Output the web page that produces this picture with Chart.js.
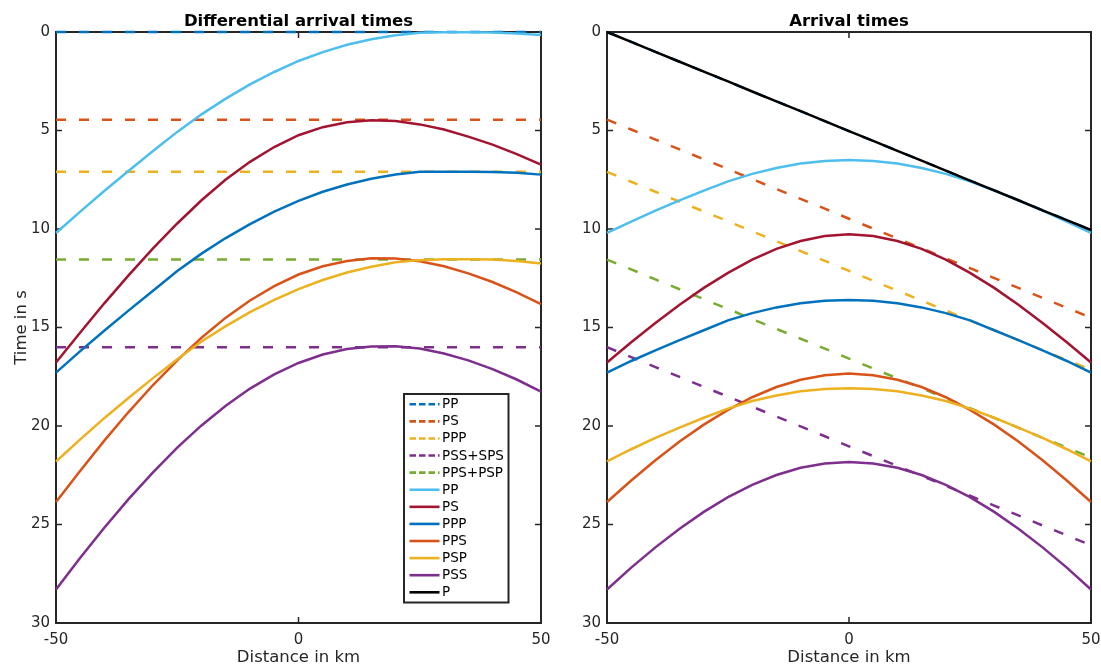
<!DOCTYPE html>
<html><head><meta charset="utf-8">
<script src="https://cdn.jsdelivr.net/npm/chart.js@4/dist/chart.umd.min.js"></script>
<style>
html,body{margin:0;padding:0;background:#fff;}
#wrap{position:relative;width:1101px;height:666px;overflow:hidden;background:#fff;}
canvas{position:absolute;top:0;}
</style></head><body>
<div id="wrap">
<canvas id="c1" width="560" height="666" style="left:0px"></canvas>
<canvas id="c2" width="541" height="666" style="left:560px"></canvas>
</div>
<script>
// ---------- data ----------
const distanceKm = [-50,-45,-40,-35,-30,-25,-20,-15,-10,-5,0,5,10,15,20,25,30,35,40,45,50];
const yTicks = [0,5,10,15,20,25,30];
const xTicks = [-50,0,50];

const dashedNames = ['PP','PS','PPP','PSS+SPS','PPS+PSP'];
const solidNames = ['PP','PS','PPP','PPS','PSP','PSS','P'];

// left panel: differential arrival times (s)
const diffDashedLevels = [0, 4.45, 7.1, 16.0, 11.55];
const diffPP  = [10.2,9.12,8.06,7.04,6.04,5.07,4.18,3.38,2.66,2.03,1.47,1.02,0.65,0.37,0.16,0.04,0.01,0.01,0.02,0.07,0.15];
const diffPS  = [16.78,15.25,13.76,12.34,10.98,9.72,8.54,7.49,6.59,5.84,5.24,4.83,4.58,4.48,4.52,4.69,4.95,5.31,5.72,6.2,6.73];
const diffPPP = [17.29,16.2,15.15,14.13,13.13,12.13,11.25,10.46,9.75,9.12,8.57,8.11,7.74,7.45,7.23,7.10,7.10,7.10,7.11,7.15,7.24];
const diffPPS = [23.86,22.27,20.73,19.28,17.92,16.67,15.52,14.5,13.63,12.9,12.31,11.89,11.62,11.49,11.5,11.64,11.89,12.25,12.69,13.22,13.81];
const diffPSP = [21.8,20.68,19.59,18.57,17.57,16.61,15.71,14.93,14.22,13.6,13.05,12.59,12.21,11.92,11.69,11.58,11.54,11.54,11.55,11.63,11.75];
const diffPSS = [28.3,26.69,25.15,23.7,22.35,21.1,19.97,18.97,18.1,17.38,16.8,16.37,16.09,15.96,15.95,16.07,16.32,16.67,17.11,17.64,18.25];

// right panel: arrival times (s)
const timePPdash  = [0,0.50,1.01,1.51,2.01,2.51,3.02,3.52,4.02,4.52,5.03,5.53,6.03,6.53,7.04,7.54,8.04,8.54,9.05,9.55,10.05];
const timePSdash  = [4.45,4.95,5.46,5.96,6.46,6.96,7.47,7.97,8.47,8.97,9.48,9.98,10.48,10.98,11.49,11.99,12.49,12.99,13.5,14.0,14.5];
const timePPPdash = [7.1,7.6,8.11,8.61,9.11,9.61,10.12,10.62,11.12,11.62,12.13,12.63,13.13,13.63,14.14,14.64,15.14,15.64,16.15,16.65,17.15];
const timePSSdash = [16,16.5,17.01,17.51,18.01,18.51,19.02,19.52,20.02,20.52,21.03,21.53,22.03,22.53,23.04,23.54,24.04,24.54,25.05,25.55,26.05];
const timePPSdash = [11.55,12.05,12.56,13.06,13.56,14.06,14.57,15.07,15.57,16.07,16.58,17.08,17.58,18.08,18.59,19.09,19.59,20.09,20.6,21.1,21.6];
const timePP  = [10.2,9.62,9.07,8.55,8.05,7.58,7.2,6.9,6.68,6.55,6.5,6.55,6.68,6.9,7.2,7.58,8.05,8.55,9.07,9.62,10.2];
const timePS  = [16.78,15.75,14.77,13.85,12.99,12.23,11.56,11.01,10.61,10.36,10.27,10.36,10.61,11.01,11.56,12.23,12.99,13.85,14.77,15.75,16.78];
const timePPP = [17.29,16.7,16.16,15.64,15.14,14.64,14.27,13.98,13.77,13.64,13.6,13.64,13.77,13.98,14.27,14.64,15.14,15.64,16.16,16.7,17.29];
const timePPS = [23.86,22.77,21.74,20.79,19.93,19.18,18.54,18.02,17.65,17.42,17.34,17.42,17.65,18.02,18.54,19.18,19.93,20.79,21.74,22.77,23.86];
const timePSP = [21.8,21.18,20.6,20.08,19.58,19.12,18.73,18.45,18.24,18.12,18.08,18.12,18.24,18.45,18.73,19.12,19.58,20.08,20.6,21.18,21.8];
const timePSS = [28.3,27.19,26.16,25.21,24.36,23.61,22.99,22.49,22.12,21.9,21.83,21.9,22.12,22.49,22.99,23.61,24.36,25.21,26.16,27.19,28.3];
const timeP   = [0,0.50,1.01,1.51,2.01,2.51,3.02,3.52,4.02,4.52,5.03,5.53,6.03,6.53,7.04,7.54,8.04,8.54,9.05,9.55,10.05];

const dashColors  = ['#0072BD','#D95319','#EDB120','#7E2F8E','#77AC30'];
const solidColors = ['#4DBEEE','#A2142F','#0072BD','#D95319','#EDB120','#7E2F8E','#000000'];

// ---------- helpers ----------
const FONT = "'DejaVu Sans', 'Liberation Sans', sans-serif";
const AXC = '#262626';
const DASH = [10, 13];

function series(label, xs, ys, color, dashed) {
  return {
    label, data: xs.map((d, i) => ({x: d, y: ys[i]})),
    borderColor: color, backgroundColor: color, borderWidth: 2.5,
    borderDash: dashed ? DASH : [], pointRadius: 0, pointHoverRadius: 0,
    tension: 0, fill: false, clip: false
  };
}

const legendEntries = dashedNames.map((n, i) => ({name: n, color: dashColors[i], dashed: true}))
  .concat(solidNames.map((n, i) => ({name: n, color: solidColors[i], dashed: false})));

const framePlugin = {
  id: 'frame',
  beforeDatasetsDraw(chart, args, o) {
    const {ctx, chartArea: a, scales: {x, y}} = chart;
    ctx.save();
    // ticks inside box
    ctx.strokeStyle = AXC; ctx.lineWidth = 1.5;
    ctx.beginPath();
    yTicks.forEach(v => {
      const py = y.getPixelForValue(v);
      ctx.moveTo(a.left, py); ctx.lineTo(a.left + 6, py);
      ctx.moveTo(a.right, py); ctx.lineTo(a.right - 6, py);
    });
    xTicks.forEach(v => {
      const px = x.getPixelForValue(v);
      ctx.moveTo(px, a.top); ctx.lineTo(px, a.top + 6);
      ctx.moveTo(px, a.bottom); ctx.lineTo(px, a.bottom - 6);
    });
    ctx.stroke();
    ctx.lineWidth = 2;
    ctx.strokeRect(a.left, a.top, a.right - a.left, a.bottom - a.top);
    // x tick labels
    ctx.fillStyle = AXC;
    ctx.font = "15px " + FONT;
    ctx.textAlign = 'center'; ctx.textBaseline = 'middle';
    xTicks.forEach(v => ctx.fillText(String(v), x.getPixelForValue(v), 640));
    // titles
    const cx = (a.left + a.right) / 2;
    ctx.fillStyle = '#000';
    ctx.font = "bold 16.5px " + FONT;
    ctx.textAlign = 'center'; ctx.textBaseline = 'alphabetic';
    ctx.fillText(o.title, cx, 25.5);
    ctx.fillStyle = AXC;
    ctx.font = "16.5px " + FONT;
    ctx.fillText('Distance in km', cx, 662);
    if (o.yTitle) {
      ctx.save();
      ctx.translate(26, (a.top + a.bottom) / 2);
      ctx.rotate(-Math.PI / 2);
      ctx.fillText(o.yTitle, 0, 0);
      ctx.restore();
    }
    ctx.restore();
  },
  afterDraw(chart, args, o) {
    if (!o.legend) return;
    const ctx = chart.ctx;
    ctx.save();
    const L = 404, T = 394, R = 508.5, B = 602.5;
    ctx.fillStyle = '#fff';
    ctx.fillRect(L, T, R - L, B - T);
    ctx.strokeStyle = AXC; ctx.lineWidth = 2;
    ctx.strokeRect(L, T, R - L, B - T);
    ctx.font = "13.5px " + FONT;
    ctx.textAlign = 'left'; ctx.textBaseline = 'middle';
    legendEntries.forEach((e, i) => {
      const yy = 404.3 + i * 17.09;
      ctx.strokeStyle = e.color; ctx.lineWidth = 2.6;
      ctx.setLineDash(e.dashed ? [6.5, 3] : []);
      ctx.beginPath(); ctx.moveTo(409.5, yy); ctx.lineTo(439.5, yy); ctx.stroke();
      ctx.setLineDash([]);
      ctx.fillStyle = '#000';
      ctx.fillText(e.name, 442, yy + 0.5);
    });
    ctx.restore();
  }
};

function scalesFor(yWidth) {
  return {
    x: {
      type: 'linear', min: -50, max: 50,
      afterBuildTicks: s => { s.ticks = xTicks.map(v => ({value: v})); },
      ticks: {display: false},
      grid: {display: false, drawTicks: false}, border: {display: false},
      afterFit: s => { s.height = 43; }
    },
    y: {
      type: 'linear', min: 0, max: 30, reverse: true,
      afterBuildTicks: s => { s.ticks = yTicks.map(v => ({value: v})); },
      ticks: {color: AXC, font: {family: FONT, size: 15}, padding: 6},
      grid: {display: false, drawTicks: false}, border: {display: false},
      afterFit: s => { s.width = yWidth; }
    }
  };
}

function finalize(ds) { ds.forEach((d, i) => { d.order = -i; }); return ds; }

// ---------- left chart ----------
const leftDatasets = [];
diffDashedLevels.forEach((lvl, i) => {
  const ends = [distanceKm[0], distanceKm[distanceKm.length - 1]];
  leftDatasets.push(series(dashedNames[i], ends, [lvl, lvl], dashColors[i], true));
});
[diffPP, diffPS, diffPPP, diffPPS, diffPSP, diffPSS].forEach((arr, i) => {
  leftDatasets.push(series(solidNames[i], distanceKm, arr, solidColors[i], false));
});

new Chart(document.getElementById('c1'), {
  type: 'line',
  data: {datasets: finalize(leftDatasets)},
  options: {
    responsive: false, animation: false, devicePixelRatio: 1,
    layout: {padding: {left: 0, right: 19, top: 32, bottom: 0}},
    scales: scalesFor(56),
    plugins: {
      legend: {display: false}, tooltip: {enabled: false},
      frame: {title: 'Differential arrival times', yTitle: 'Time in s', legend: true}
    }
  },
  plugins: [framePlugin]
});

// ---------- right chart ----------
const rightDatasets = [];
[timePPdash, timePSdash, timePPPdash, timePSSdash, timePPSdash].forEach((arr, i) => {
  rightDatasets.push(series(dashedNames[i], distanceKm, arr, dashColors[i], true));
});
[timePP, timePS, timePPP, timePPS, timePSP, timePSS, timeP].forEach((arr, i) => {
  rightDatasets.push(series(solidNames[i], distanceKm, arr, solidColors[i], false));
});

new Chart(document.getElementById('c2'), {
  type: 'line',
  data: {datasets: finalize(rightDatasets)},
  options: {
    responsive: false, animation: false, devicePixelRatio: 1,
    layout: {padding: {left: 0, right: 10, top: 32, bottom: 0}},
    scales: scalesFor(47),
    plugins: {
      legend: {display: false}, tooltip: {enabled: false},
      frame: {title: 'Arrival times', yTitle: null, legend: false}
    }
  },
  plugins: [framePlugin]
});
</script>
</body></html>
